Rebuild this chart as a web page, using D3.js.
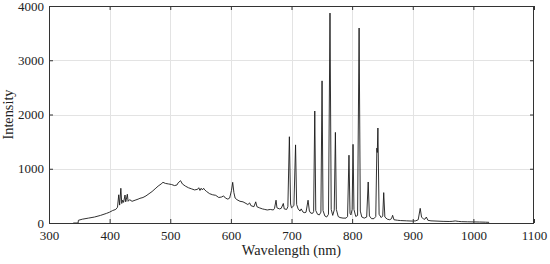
<!DOCTYPE html>
<html><head><meta charset="utf-8">
<script src="https://cdn.jsdelivr.net/npm/d3@7"></script>
<style>body{margin:0;background:#fff}svg{display:block}</style>
</head><body>
<svg id="c" width="550" height="264"></svg>
<script>
const wavelengths = [340,348,348.5,355,365,375,385,395,400,405,410,413,415,416.5,418.5,420,421.5,423,425.4,426.5,427.5,429.2,430.5,433,437,442,447,450,455,460,465,470,475,480,485,488,492,497,502,507,511,513,517,520,525,530,535,540,545,547,549,551,553,555,557,560,565,570,575,580,585,588,591,595,598,601,603,605,607,610,615,620,625,628,631,633,638,641,643,647,652,656,660,665,670,672,674.5,676,680,683,686.5,688,692,694,696.5,698.5,700,702,704,706.7,708.5,711,714,716,719,722,724,727.3,729.5,732,735,736.5,738.4,740,743,746,748.5,750.4,752,755,758,761,763.5,765.5,768,770.5,772.4,774,777,780,785,790,792.5,794.8,796.5,798,800,801.5,803,806,809,811.5,813.5,816,820,824,826.5,828.5,832,836,839,840.8,841.5,842.5,844.5,848,850.5,852.1,854,858,862,865,866.8,869,875,880,890,900,905,909,912.3,914.5,918,920,922.4,925,930,940,950,960,965,970,975,980,990,1000,1010,1020,1026];
const intensities = [0,0,50,70,90,110,140,178,200,230,250,290,520,330,640,360,420,380,516,390,430,530,400,430,400,420,440,455,470,500,540,580,630,680,720,750,730,720,710,690,700,740,780,720,680,650,630,610,620,650,600,640,610,640,610,580,540,520,510,470,480,500,460,440,460,600,750,560,460,430,400,390,360,340,370,320,300,390,300,280,260,250,240,250,240,270,420,280,260,270,360,260,250,300,1590,350,280,300,320,1440,340,260,220,260,200,190,200,420,220,180,180,210,2064,230,160,150,200,2620,230,130,110,160,3870,250,140,240,1670,250,120,100,90,90,120,1250,180,150,250,1450,250,120,140,3594,220,110,90,110,756,130,80,80,120,1380,1300,1751,160,100,130,560,110,70,60,80,142,60,50,45,40,35,40,60,270,110,70,70,110,50,40,35,30,28,30,38,30,25,22,20,18,15,12];
const xTicks = [300,400,500,600,700,800,900,1000,1100];
const yTicks = [0,1000,2000,3000,4000];

const svg = d3.select("#c");
const L=49,R=534,T=6,B=223;
const x = d3.scaleLinear().domain([300,1100]).range([L,R]);
const y = d3.scaleLinear().domain([0,4000]).range([B,T]);
const FONT = '"Liberation Serif"';

// grid
const g = svg.append("g");
g.selectAll(".gx").data(xTicks.slice(1,-1)).enter().append("line")
 .attr("x1",d=>Math.round(x(d))+0.5).attr("x2",d=>Math.round(x(d))+0.5).attr("y1",T).attr("y2",B)
 .attr("stroke","#e3e3e3").attr("stroke-width",1);
g.selectAll(".gy").data(yTicks.slice(1,-1)).enter().append("line")
 .attr("y1",d=>Math.round(y(d))+0.5).attr("y2",d=>Math.round(y(d))+0.5).attr("x1",L).attr("x2",R)
 .attr("stroke","#e3e3e3").attr("stroke-width",1);

// data line
const pts = wavelengths.map((w,i)=>[w,intensities[i]]);
svg.append("path").datum(pts)
 .attr("d", d3.line().x(d=>x(d[0])).y(d=>y(d[1])))
 .attr("fill","none").attr("stroke","#1a1a1a").attr("stroke-width",0.9).attr("stroke-linejoin","round");

// axes
const ax = svg.append("g").attr("transform",`translate(0,${B})`)
 .call(d3.axisBottom(x).tickValues(xTicks).tickSizeInner(-4).tickSizeOuter(0).tickPadding(8).tickFormat(d3.format("d")));
const axT = svg.append("g").attr("transform",`translate(0,${T})`)
 .call(d3.axisTop(x).tickValues(xTicks).tickSizeInner(-4).tickSizeOuter(0).tickFormat(""));
const ay = svg.append("g").attr("transform",`translate(${L},0)`)
 .call(d3.axisLeft(y).tickValues(yTicks).tickSizeInner(-4).tickSizeOuter(0).tickPadding(5).tickFormat(d3.format("d")));
const ayR = svg.append("g").attr("transform",`translate(${R},0)`)
 .call(d3.axisRight(y).tickValues(yTicks).tickSizeInner(-4).tickSizeOuter(0).tickFormat(""));
[ax,axT,ay,ayR].forEach(a=>{
  a.attr("font-family",FONT).attr("font-size",13);
  a.selectAll(".domain").remove();
  a.selectAll("line").attr("stroke","#333");
  a.selectAll("text").style("font-family",FONT).style("font-size","13px").attr("fill","#222");
});
// box
svg.append("rect").attr("x",L+0.5).attr("y",T+0.5).attr("width",R-L-1).attr("height",B-T)
 .attr("fill","none").attr("stroke","#333").attr("stroke-width",1);

svg.append("text").attr("x",(L+R)/2).attr("y",255).attr("text-anchor","middle")
 .style("font-family",FONT).style("font-size","14.3px").attr("fill","#222").text("Wavelength (nm)");
svg.append("text").attr("transform",`translate(13,${(T+B)/2}) rotate(-90)`).attr("text-anchor","middle")
 .style("font-family",FONT).style("font-size","14.3px").attr("fill","#222").text("Intensity");
</script>
</body></html>
